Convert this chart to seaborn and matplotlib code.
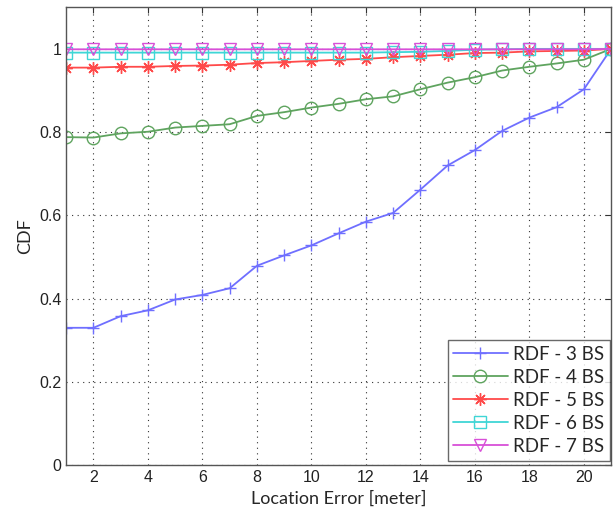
import numpy as np
import pandas as pd
import matplotlib
matplotlib.use("Agg")
import matplotlib.pyplot as plt
import seaborn as sns

x = list(range(1, 22))
rdf3 = [0.33, 0.33, 0.358, 0.372, 0.398, 0.409, 0.425, 0.479, 0.504, 0.528, 0.557,
        0.585, 0.606, 0.662, 0.72, 0.757, 0.803, 0.835, 0.86, 0.903, 1.0]
rdf4 = [0.788, 0.787, 0.797, 0.801, 0.811, 0.815, 0.819, 0.839, 0.848, 0.859, 0.868,
        0.879, 0.886, 0.903, 0.919, 0.932, 0.948, 0.957, 0.965, 0.974, 1.0]
rdf5 = [0.955, 0.955, 0.957, 0.957, 0.959, 0.96, 0.962, 0.966, 0.968, 0.971, 0.974,
        0.976, 0.98, 0.983, 0.986, 0.99, 0.991, 0.994, 0.995, 0.996, 1.0]
rdf6 = [0.991, 0.991, 0.991, 0.991, 0.991, 0.991, 0.991, 0.991, 0.991, 0.991, 0.991,
        0.991, 0.992, 0.993, 0.995, 0.998, 0.999, 1.0, 1.0, 1.0, 1.0]
rdf7 = [0.999] * 20 + [1.0]
labels = ["RDF - 3 BS", "RDF - 4 BS", "RDF - 5 BS", "RDF - 6 BS", "RDF - 7 BS"]
series = [rdf3, rdf4, rdf5, rdf6, rdf7]
x_ticks = [2, 4, 6, 8, 10, 12, 14, 16, 18, 20]
y_ticks = [0, 0.2, 0.4, 0.6, 0.8, 1.0]
y_tick_labels = ["0", "0.2", "0.4", "0.6", "0.8", "1"]

colors = ["#6f6fff", "#5fa45f", "#ff4a4a", "#3fd6d6", "#d84fd8"]
markers = ["+", "o", (8, 2, 0), "s", "v"]

sns.set_style("white")
plt.rcParams["font.family"] = ["Liberation Sans", "DejaVu Sans"]

fig = plt.figure(figsize=(6.13, 5.18), dpi=100)
ax = fig.add_axes([0.108, 0.102, 0.889, 0.884])

df = pd.DataFrame({
    "x": x * len(series),
    "y": sum(series, []),
    "label": sum([[l] * len(x) for l in labels], []),
})

for lab, col, mk in zip(labels, colors, markers):
    sub = df[df["label"] == lab]
    hollow = mk in ("o", "s", "v")
    sns.lineplot(data=sub, x="x", y="y", ax=ax, color=col, marker=mk,
                 markersize=9, lw=1.3,
                 markerfacecolor="none" if hollow else col,
                 markeredgecolor=col, markeredgewidth=1.0, label=lab,
                 estimator=None, sort=False)

ax.set_xlim(1, 21)
ax.set_ylim(0, 1.1)
ax.set_xticks(x_ticks)
ax.set_yticks(y_ticks)
ax.set_yticklabels(y_tick_labels)
ax.tick_params(direction="in", length=4, labelsize=11.5, colors="#333333",
               labelcolor="#222222", top=True, right=True)
ax.grid(True, linestyle=(0, (1, 4)), color="#333333", lw=0.8)
for s in ax.spines.values():
    s.set_color("#555555")
    s.set_linewidth(1.0)

ax.set_xlabel("Location Error [meter]", fontsize=13, family=["Lato", "DejaVu Sans"])
ax.set_ylabel("CDF", fontsize=13, family=["Lato", "DejaVu Sans"])

leg = ax.legend(loc="lower right", bbox_to_anchor=(0.998, 0.01), borderaxespad=0,
                handlelength=2.9, frameon=True,
                fancybox=False, borderpad=0.3, labelspacing=0.32, handletextpad=0.3,
                prop={"family": ["Lato", "DejaVu Sans"], "size": 13.5})
leg.get_frame().set_edgecolor("#444444")
leg.get_frame().set_linewidth(1.0)

fig.savefig("out.png", dpi=100)
